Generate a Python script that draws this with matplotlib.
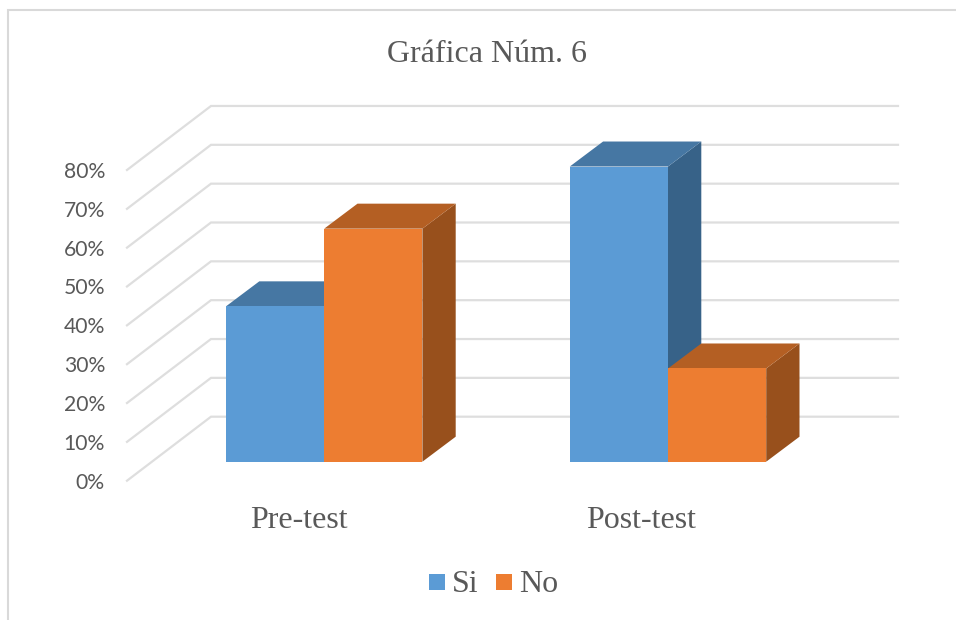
import matplotlib
matplotlib.use('Agg')
import matplotlib.pyplot as plt
from matplotlib.patches import Polygon, Rectangle

# data
categories = ['Pre-test', 'Post-test']
series_names = ['Si', 'No']
si_values = [40, 76]
no_values = [60, 24]
grid_values = [0, 10, 20, 30, 40, 50, 60, 70, 80]
tick_labels = ['0%', '10%', '20%', '30%', '40%', '50%', '60%', '70%', '80%']

SERIF = 'Liberation Serif'
GREY = '#595959'
GRID = '#dedede'

# colours: front, top, side
BLUE = ('#5b9bd5', '#4677a3', '#376288')
ORANGE = ('#ed7d31', '#b45f23', '#98501c')

# pseudo 3d set up, in pixels
PX_PER_10 = 38.84
Y0_FRONT = 480.7
X_FRONT = 127
DX_WALL = 84
DY_WALL = 64
X_RIGHT = 898
BASE_Y = 461.7
BAR_W = 98.2
DEPTH_X = 33.3
DEPTH_Y = 25
GROUP_X = [226, 569.8]
LABEL_X = [299, 641]


def val2y(v, base):
    return base - v / 10 * PX_PER_10


def bar3d(ax, x, v, colors):
    top = val2y(v, BASE_Y)
    ax.add_patch(Polygon([(x + BAR_W, BASE_Y), (x + BAR_W + DEPTH_X, BASE_Y - DEPTH_Y),
                          (x + BAR_W + DEPTH_X, top - DEPTH_Y), (x + BAR_W, top)],
                         fc=colors[2], ec='none', zorder=3))
    ax.add_patch(Polygon([(x, top), (x + DEPTH_X, top - DEPTH_Y),
                          (x + BAR_W + DEPTH_X, top - DEPTH_Y), (x + BAR_W, top)],
                         fc=colors[1], ec='none', zorder=3))
    ax.add_patch(Rectangle((x, top), BAR_W, BASE_Y - top, fc=colors[0], ec='none', zorder=3))


fig = plt.figure(figsize=(9.56, 6.2), dpi=100)
ax = fig.add_axes([0, 0, 1, 1])
ax.set_xlim(0, 956)
ax.set_ylim(620, 0)
ax.axis('off')

# chart border, only left and top are visible
ax.plot([8, 8, 956], [620, 9.5, 9.5], color='#d9d9d9', lw=1.5, solid_joinstyle='miter')

# wall grid
for v, lab in zip(grid_values, tick_labels):
    yf = val2y(v, Y0_FRONT)
    ax.plot([X_FRONT, X_FRONT + DX_WALL, X_RIGHT], [yf, yf - DY_WALL, yf - DY_WALL],
            color=GRID, lw=1.6, solid_joinstyle='miter', zorder=1)
    ax.text(105, yf + 2, lab, ha='right', va='center', fontsize=15.2, color=GREY, family='Lato')

# bars, Si first so No covers its side face
for i in range(len(categories)):
    bar3d(ax, GROUP_X[i], si_values[i], BLUE)
    bar3d(ax, GROUP_X[i] + BAR_W, no_values[i], ORANGE)
    ax.text(LABEL_X[i], 521, categories[i], ha='center', va='center',
            fontsize=23, color=GREY, family=SERIF)

ax.text(487.5, 54, 'Gráfica Núm. 6', ha='center', va='center', fontsize=23, color=GREY, family=SERIF)

# legend
ax.add_patch(Rectangle((429, 574), 16, 16, fc=BLUE[0], ec='none'))
ax.text(452, 584, series_names[0], ha='left', va='center', fontsize=23, color=GREY, family=SERIF)
ax.add_patch(Rectangle((496, 574), 16, 16, fc=ORANGE[0], ec='none'))
ax.text(519, 584, series_names[1], ha='left', va='center', fontsize=23, color=GREY, family=SERIF)

fig.savefig('out.png', dpi=100)
